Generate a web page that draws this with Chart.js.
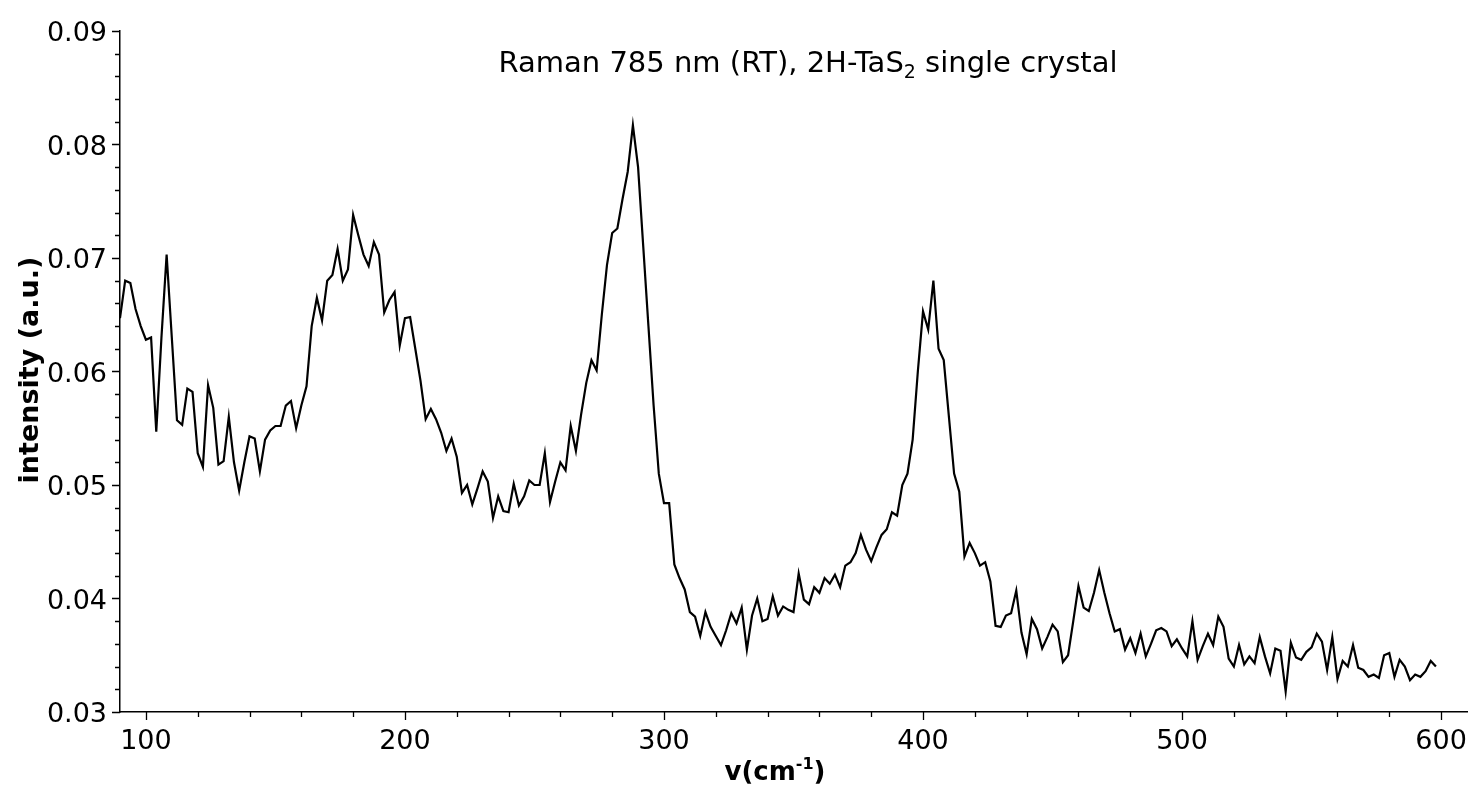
<!DOCTYPE html>
<html><head><meta charset="utf-8">
<script src="https://cdn.jsdelivr.net/npm/chart.js@4"></script>
<style>html,body{margin:0;padding:0;background:#fff}#w{width:1474px;height:793px}</style>
</head><body><div id="w"><canvas id="c"></canvas></div>
<script>
const shiftStart = 90, shiftStep = 2; // measurement grid, cm-1
const intensity = [
0.0647,0.0680,0.0678,0.0655,0.0640,0.0628,0.0630,0.0547,0.0630,0.0703,
0.0630,0.0557,0.0553,0.0585,0.0582,0.0528,0.0516,0.0588,0.0568,0.0518,
0.0521,0.0560,0.0520,0.0495,0.0520,0.0543,0.0541,0.0512,0.0540,0.0548,
0.0552,0.0552,0.0570,0.0574,0.0550,0.0570,0.0587,0.0640,0.0665,0.0645,
0.0680,0.0685,0.0708,0.0680,0.0690,0.0738,0.0720,0.0703,0.0693,0.0714,
0.0703,0.0652,0.0663,0.0670,0.0623,0.0647,0.0648,0.0620,0.0592,0.0558,
0.0567,0.0558,0.0546,0.0530,0.0541,0.0525,0.0493,0.0500,0.0483,0.0497,
0.0512,0.0503,0.0471,0.0490,0.0477,0.0476,0.0501,0.0482,0.0490,0.0504,
0.0500,0.0500,0.0528,0.0485,0.0503,0.0520,0.0513,0.0552,0.0530,0.0562,
0.0590,0.0610,0.0601,0.0650,0.0694,0.0722,0.0726,0.0752,0.0776,0.0817,
0.0780,0.0710,0.0640,0.0570,0.0510,0.0484,0.0484,0.0430,0.0418,0.0408,
0.0388,0.0384,0.0367,0.0388,0.0375,0.0367,0.0359,0.0372,0.0387,0.0378,
0.0392,0.0355,0.0385,0.0400,0.0380,0.0382,0.0402,0.0385,0.0393,0.0390,
0.0388,0.0422,0.0399,0.0395,0.0410,0.0405,0.0418,0.0413,0.0421,0.0410,
0.0429,0.0432,0.0440,0.0456,0.0443,0.0433,0.0445,0.0456,0.0461,0.0476,
0.0473,0.0500,0.0510,0.0540,0.0600,0.0653,0.0637,0.0680,0.0620,0.0610,
0.0560,0.0510,0.0494,0.0437,0.0449,0.0440,0.0429,0.0432,0.0415,0.0376,
0.0375,0.0385,0.0387,0.0407,0.0370,0.0351,0.0382,0.0373,0.0356,0.0366,
0.0377,0.0371,0.0344,0.0350,0.0380,0.0411,0.0392,0.0389,0.0405,0.0425,
0.0405,0.0387,0.0371,0.0373,0.0355,0.0365,0.0352,0.0369,0.0349,0.0360,
0.0372,0.0374,0.0371,0.0358,0.0364,0.0356,0.0349,0.0380,0.0346,0.0358,
0.0369,0.0359,0.0384,0.0375,0.0347,0.0340,0.0359,0.0342,0.0349,0.0343,
0.0366,0.0349,0.0334,0.0356,0.0354,0.0318,0.0361,0.0348,0.0346,0.0353,
0.0357,0.0369,0.0362,0.0337,0.0366,0.0329,0.0345,0.0340,0.0359,0.0339,
0.0337,0.0331,0.0333,0.0330,0.0350,0.0352,0.0331,0.0346,0.0340,0.0328,
0.0333,0.0331,0.0336,0.0345,0.0340];
const xTicks = [100,200,300,400,500,600];
const yTicks = [0.03,0.04,0.05,0.06,0.07,0.08,0.09];
const titleMain = "Raman 785 nm (RT), 2H-TaS", titleSub = "2", titleEnd = " single crystal";
const yTitle = "intensity (a.u.)";
const xTitle = "v(cm", xSup = "-1", xEnd = ")";

const FONT = "'DejaVu Sans', sans-serif";
const pts = intensity.map((v,i)=>({x: shiftStart + i*shiftStep, y: v}));

const deco = {
  id:'deco',
  afterDraw(ch){
    const c = ch.ctx, xs = ch.scales.x, ys = ch.scales.y, a = ch.chartArea;
    c.save();
    c.strokeStyle='#000'; c.lineWidth=1.3;
    c.beginPath();
    for(let v=0.03; v<=0.0901; v+=0.002){
      const y=Math.round(ys.getPixelForValue(v))+0.5;
      const major = Math.abs(Math.round(v*100)-v*100)<1e-6;
      c.moveTo(a.left, y); c.lineTo(a.left-(major?8:5), y);
    }
    for(let v=100; v<=600; v+=20){
      const x=Math.round(xs.getPixelForValue(v))+0.5;
      const major = v%100===0;
      c.moveTo(x, a.bottom); c.lineTo(x, a.bottom+(major?8:5));
    }
    c.stroke();
    c.fillStyle='#000';
    c.font = "27px "+FONT; c.textBaseline='alphabetic'; c.textAlign='right';
    yTicks.forEach(v=>c.fillText(v.toFixed(2), a.left-13, ys.getPixelForValue(v)+10));
    c.textAlign='center';
    xTicks.forEach(v=>c.fillText(String(v), xs.getPixelForValue(v), a.bottom+37));
    // title
    const bf = "29px "+FONT, sf = "19px "+FONT;
    c.font = bf; c.textAlign='left';
    const w1=c.measureText(titleMain).width, w3=c.measureText(titleEnd).width;
    c.font=sf; const w2=c.measureText(titleSub).width;
    let x0 = 808-(w1+w2+w3)/2, yb=72;
    c.font=bf; c.fillText(titleMain,x0,yb);
    c.font=sf; c.fillText(titleSub,x0+w1,yb+6);
    c.font=bf; c.fillText(titleEnd,x0+w1+w2,yb);
    // x title
    c.font="bold 26px "+FONT;
    const a1=c.measureText(xTitle).width, a3=c.measureText(xEnd).width;
    c.font="bold 16px "+FONT; const a2=c.measureText(xSup).width;
    let xx=775-(a1+a2+a3)/2, xb=780;
    c.font="bold 26px "+FONT; c.fillText(xTitle,xx,xb);
    c.font="bold 16px "+FONT; c.fillText(xSup,xx+a1,xb-11);
    c.font="bold 26px "+FONT; c.fillText(xEnd,xx+a1+a2,xb);
    // y title
    c.translate(38,370); c.rotate(-Math.PI/2);
    c.font="bold 27px "+FONT; c.textAlign='center';
    c.fillText(yTitle,0,0);
    c.restore();
  }
};

new Chart(document.getElementById('c'),{
  type:'line',
  data:{datasets:[{data:pts, borderColor:'#000', borderWidth:2.2, pointRadius:0, tension:0, fill:false}]},
  options:{
    responsive:true, maintainAspectRatio:false, animation:false,
    layout:{padding:{top:31,right:7,left:0,bottom:0}},
    plugins:{legend:{display:false},tooltip:{enabled:false}},
    scales:{
      x:{type:'linear', min:90, max:610,
        grid:{display:false}, border:{display:true,color:'#000',width:1.5},
        ticks:{display:false}, afterFit(s){s.height=81;}},
      y:{min:0.03, max:0.09,
        grid:{display:false}, border:{display:true,color:'#000',width:1.5},
        ticks:{display:false}, afterFit(s){s.width=120;}}
    }
  },
  plugins:[deco]
});
</script></body></html>
